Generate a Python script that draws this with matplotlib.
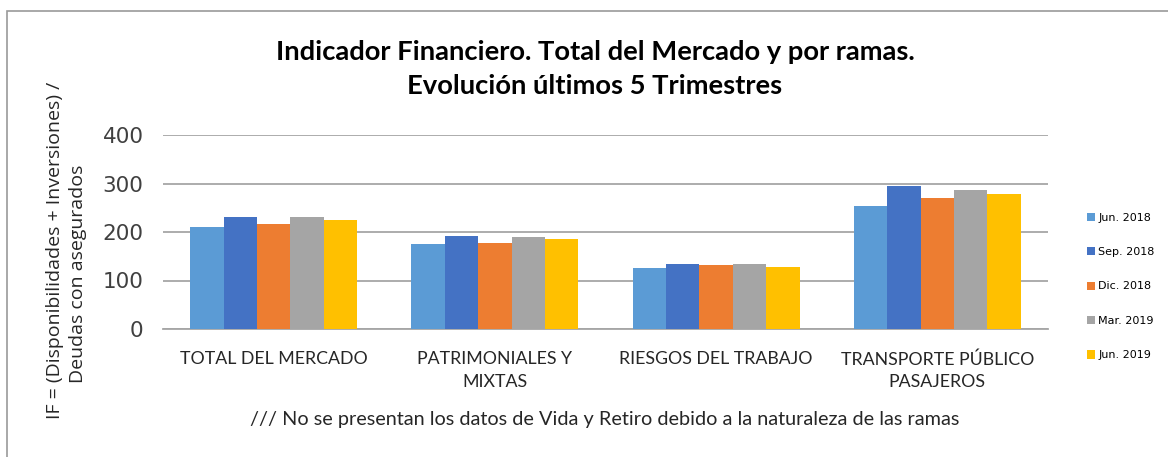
import matplotlib.pyplot as plt
import numpy as np
from matplotlib.patches import Rectangle

# --- data ---
categories = ['TOTAL DEL MERCADO', 'PATRIMONIALES Y\nMIXTAS', 'RIESGOS DEL TRABAJO',
              'TRANSPORTE PÚBLICO\nPASAJEROS']
periods = ['Jun. 2018', 'Sep. 2018', 'Dic. 2018', 'Mar. 2019', 'Jun. 2019']
jun_2018 = [210, 175, 125, 254]
sep_2018 = [230, 191, 133, 294]
dic_2018 = [217, 178, 131, 271]
mar_2019 = [231, 189, 133, 286]
jun_2019 = [225, 186, 128, 278]
series = [jun_2018, sep_2018, dic_2018, mar_2019, jun_2019]
colors = ['#5B9BD5', '#4472C4', '#ED7D31', '#A5A5A5', '#FFC000']
y_ticks = [0, 100, 200, 300, 400]

W, H = 1168, 457
fig = plt.figure(figsize=(W / 100, H / 100), dpi=100)
ax = fig.add_axes([163 / W, 1 - 329 / H, (1048 - 163) / W, (329 - 135) / H])

x = np.arange(len(categories))
width = 0.151
for i, (vals, col, lab) in enumerate(zip(series, colors, periods)):
    ax.bar(x + (i - 2) * width, vals, width, color=col, label=lab, zorder=3)

ax.set_xlim(-0.5, len(categories) - 0.5)
ax.set_ylim(0, 400)
ax.set_yticks(y_ticks)
ax.tick_params(axis='y', length=0, labelsize=15.5, pad=14, labelcolor='#404040')
ax.tick_params(axis='x', length=0, pad=16)
ax.set_xticks(x)
ax.set_xticklabels(categories, fontsize=12.8, family='Lato',
                   color='#262626', linespacing=1.5)
ax.grid(axis='y', color='#A6A6A6', linewidth=1.3, zorder=0)
for s in ['top', 'right', 'left']:
    ax.spines[s].set_visible(False)
ax.spines['bottom'].set_color('#A6A6A6')
ax.spines['bottom'].set_linewidth(1.3)

# y axis title, two centred lines as in the original
fig.text(55 / W, 1 - 250 / H, 'IF = (Disponibilidades + Inversiones) /',
         rotation=90, ha='center', va='center', fontsize=14,
         family='Open Sans', color='#262626')
fig.text(78 / W, 1 - 274 / H, 'Deudas con asegurados',
         rotation=90, ha='center', va='center', fontsize=14,
         family='Open Sans', color='#262626')

fig.text(595 / W, 1 - 69 / H, 'Indicador Financiero. Total del Mercado y por ramas.\nEvolución últimos 5 Trimestres',
         ha='center', va='center', fontsize=19.7, fontweight='bold',
         family='Lato', linespacing=1.55)

fig.text(605 / W, 1 - 419 / H, '/// No se presentan los datos de Vida y Retiro debido a la naturaleza de las ramas',
         ha='center', va='center', fontsize=14.3, family='Lato', color='#262626')

ax.legend(loc='upper left', bbox_to_anchor=(1081 / W, 1 - 207 / H),
          bbox_transform=fig.transFigure, frameon=False,
          fontsize=8, handlelength=0.75, handleheight=0.75, handletextpad=0.3,
          labelspacing=2.2, borderpad=0)

fig.patches.append(Rectangle((7 / W, -0.1), 1.2, 1 - 11 / H + 0.1,
                             transform=fig.transFigure, fill=False,
                             edgecolor='#9A9A9A', linewidth=1.2))

fig.savefig('out.png', dpi=100)
